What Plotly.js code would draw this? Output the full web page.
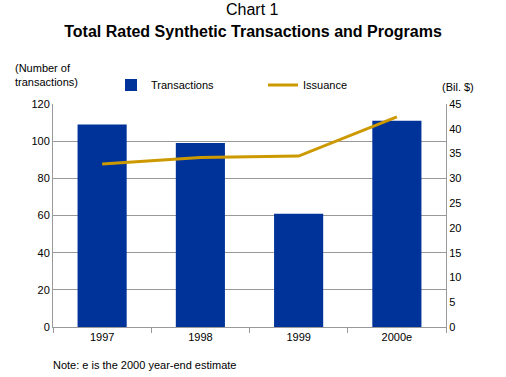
<!DOCTYPE html>
<html>
<head>
<meta charset="utf-8">
<script src="https://cdn.plot.ly/plotly-3.0.1.min.js"></script>
<style>html,body{margin:0;padding:0;background:#fff;}#chart{width:506px;height:377px;}</style>
</head>
<body>
<div id="chart"></div>
<script>
const years = ["1997", "1998", "1999", "2000e"];
const transactions = [109, 99, 61, 111];
const issuance = [32.9, 34.2, 34.5, 42.4];
const leftTicks = [0, 20, 40, 60, 80, 100, 120];
const rightTicks = [0, 5, 10, 15, 20, 25, 30, 35, 40, 45];

const font = "Liberation Sans, Arial, sans-serif";
const data = [
  {type: "bar", x: years, y: transactions, name: "Transactions",
   marker: {color: "#003399"}, yaxis: "y", legend: "legend"},
  {type: "scatter", mode: "lines", x: years, y: issuance, name: "Issuance",
   line: {color: "#CC9900", width: 3}, yaxis: "y2", legend: "legend2"}
];
function px(x) { return (x - 53) / (506 - 53 - 60); }
function py(y) { return (327 - y) / (327 - 104); }
const layout = {
  width: 506, height: 377,
  margin: {l: 53, r: 60, t: 104, b: 50},
  paper_bgcolor: "#fff", plot_bgcolor: "#fff",
  font: {family: font, size: 11, color: "#000"},
  bargap: 0.5,
  showlegend: true,
  legend: {orientation: "h", x: px(111), y: py(85), xanchor: "left", yanchor: "middle",
           font: {size: 11}, bgcolor: "rgba(0,0,0,0)"},
  legend2: {orientation: "h", x: px(263), y: py(85), xanchor: "left", yanchor: "middle",
           font: {size: 11}, bgcolor: "rgba(0,0,0,0)"},
  xaxis: {type: "category", showline: true, linecolor: "#999", linewidth: 1,
          ticks: "outside", tickson: "boundaries", ticklen: 5, tickcolor: "#999",
          showgrid: false, tickfont: {size: 11}},
  yaxis: {range: [0, 120], tickvals: leftTicks, showline: true, linecolor: "#999",
          gridcolor: "#999", gridwidth: 1, zeroline: false, ticks: "", tickfont: {size: 11}},
  yaxis2: {range: [0, 45], tickvals: rightTicks, overlaying: "y", side: "right",
           showline: true, linecolor: "#999", showgrid: false, zeroline: false, ticks: "",
           tickfont: {size: 11}},
  annotations: [
    {text: "Chart 1", x: px(252), y: py(10), xref: "paper", yref: "paper", showarrow: false,
     yanchor: "middle", font: {size: 16}},
    {text: "(Number of<br>transactions)", xref: "paper", yref: "paper", x: px(13), y: py(75),
     xanchor: "left", yanchor: "middle", align: "left", showarrow: false, font: {size: 11}},
    {text: "(Bil. $)", xref: "paper", yref: "paper", x: px(440), y: py(87),
     xanchor: "left", yanchor: "middle", showarrow: false, font: {size: 11}},
    {text: "Note: e is the 2000 year-end estimate", xref: "paper", yref: "paper", x: px(51), y: py(365),
     xanchor: "left", yanchor: "middle", showarrow: false, font: {size: 11}}
  ],
  title: {text: "<b>Total Rated Synthetic Transactions and Programs</b>", x: 0.5, xanchor: "center",
          y: 1 - 31/377, yanchor: "middle", font: {size: 16}}
};
Plotly.newPlot("chart", data, layout, {displayModeBar: false, staticPlot: true});
</script>
</body>
</html>
